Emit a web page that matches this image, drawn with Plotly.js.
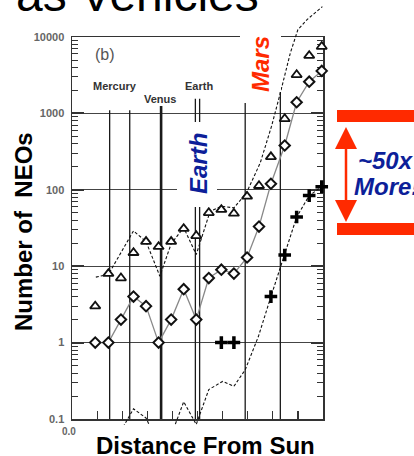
<!DOCTYPE html>
<html><head><meta charset="utf-8">
<script src="https://cdn.plot.ly/plotly-3.0.1.min.js"></script>
<style>html,body{margin:0;padding:0;background:#fff}#chart{width:414px;height:456px}</style>
</head><body><div id="chart"></div>
<script>
// ---------------- data ----------------
const binAU = [0.185,0.29,0.39,0.49,0.59,0.69,0.79,0.89,0.99,1.09,1.19,1.29,1.395,1.49,1.585,1.695,1.79,1.89,1.99];
const triangleCounts = [3,8,7,15,21,18,21,31,25,50,55,49,82,113,270,850,3200,5700,7500];
const diamondCounts = [1,1,2,4,3,1,2,5,2,7,9,8,13,33,120,380,1400,2600,3600];
const crossAU = [1.19,1.29,1.585,1.695,1.79,1.89,1.99];
const crossCounts = [1,1,4,14,44,84,110];
const upperModelAU = [0.19,0.29,0.49,0.59,0.70,0.79,0.89,0.99,1.10,1.19,1.29,1.39,1.50,1.59,1.66,1.74,1.80,1.875,1.995];
const upperModel = [7.2,7.8,29,21,7.4,19.6,32,14.2,52,61,58,91,225,680,1850,6200,12500,17000,25000];
const lowerModelAU = [0.19,0.29,0.39,0.49,0.59,0.69,0.79,0.89,0.99,1.09,1.20,1.29,1.38,1.485,1.585,1.695,1.79,1.89,1.99];
const lowerModel = [0.035,0.04,0.07,0.136,0.103,0.045,0.061,0.168,0.085,0.243,0.31,0.268,0.44,1.2,4,14,44,84,110];
const planetAU = [0.30,0.46,0.71,0.983,1.017,1.38,1.66];
const planetLineTop = [1100,1100,1250,1550,1550,1370,2000];
const yTickVals = [0.1,1,10,100,1000,10000];
const yTickText = ['0.1','1','10','100','1000','10000'];
const xTickVals = [0.2,0.4,0.6,0.8,1.0,1.2,1.4,1.6,1.8];

// ---------------- layout helpers ----------------
const W = 414, H = 456;
const fx = px => px / W, fy = py => 1 - py / H;
const P = (px, py) => fx(px).toFixed(5) + ',' + fy(py).toFixed(5);
const frame = {l:72, r:323, t:37, b:419};
const logPerPx = 5 / (frame.b - frame.t);
const clipBottom = 425;
const FONT = 'Liberation Sans, Arial, sans-serif';
const RED = '#ff2a00', BLUE = '#0d1f99';

const minorVals = [];
for (let d = -1; d < 4; d++) for (let k = 2; k <= 9; k++) minorVals.push(k * Math.pow(10, d));

const traces = [];
planetAU.forEach((a, i) => {
  traces.push({x:[a, a], y:[planetLineTop[i], 0.1], xaxis:'x', yaxis:'y', mode:'lines',
    line:{color:'#1a1a1a', width: i === 2 ? 2.6 : 1.3}, hoverinfo:'skip'});
});
traces.push({x:upperModelAU, y:upperModel, xaxis:'x2', yaxis:'y2', mode:'lines',
  line:{color:'#111', width:1.1, dash:'3px,2px'}, hoverinfo:'skip'});
traces.push({x:lowerModelAU, y:lowerModel, xaxis:'x2', yaxis:'y2', mode:'lines',
  line:{color:'#111', width:1.1, dash:'3px,2px'}, hoverinfo:'skip'});
traces.push({x:binAU, y:diamondCounts, xaxis:'x2', yaxis:'y2', mode:'lines+markers', cliponaxis:false,
  line:{color:'#888', width:1.3},
  marker:{symbol:'diamond', size:8, color:'#fff', line:{color:'#111', width:2}}});
traces.push({x:binAU, y:triangleCounts, xaxis:'x2', yaxis:'y2', mode:'markers', cliponaxis:false,
  marker:{symbol:'triangle-up', size:9, color:'#fff', line:{color:'#111', width:1.8}}});
traces.push({x:crossAU, y:crossCounts, xaxis:'x2', yaxis:'y2', mode:'markers', cliponaxis:false,
  marker:{symbol:'cross-thin-open', size:9, color:'#000', line:{color:'#000', width:3.5}}});

const ann = (text, px, py, o) => Object.assign({text:text, x:fx(px), y:fy(py), xref:'paper', yref:'paper',
  showarrow:false, xanchor:'center', yanchor:'middle'}, o || {});

const annotations = [
  ann('as Vehicles', 261, -5, {xanchor:'right', font:{family:FONT, size:48, color:'#000'}}),
  ann('(b)', 104.5, 55, {font:{family:FONT, size:16, color:'#555'}}),
  ann('Mercury', 114.5, 86, {font:{family:FONT, size:11, color:'#333', weight:'bold'}}),
  ann('Venus', 159.5, 99, {font:{family:FONT, size:11, color:'#333', weight:'bold'}}),
  ann('Earth', 198.5, 86, {font:{family:FONT, size:11, color:'#333', weight:'bold'}}),
  ann('Mars', 260, 64, {textangle:-90, font:{family:FONT, size:24, color:RED, weight:'bold', style:'italic'}}),
  ann('Earth', 198, 164, {textangle:-90, font:{family:FONT, size:24, color:BLUE, weight:'bold', style:'italic'}}),
  ann('~50x', 386, 160, {font:{family:FONT, size:24, color:BLUE, weight:'bold', style:'italic'}}),
  ann('More!', 386, 186, {font:{family:FONT, size:24, color:BLUE, weight:'bold', style:'italic'}}),
  ann('Number of  NEOs', 23, 232, {textangle:-90, font:{family:FONT, size:24, color:'#000', weight:'bold'}}),
  ann('Distance From Sun', 205.5, 445, {font:{family:FONT, size:24, color:'#000', weight:'bold'}}),
  ann('0.0', 68.5, 431, {font:{family:FONT, size:10, color:'#666', weight:'bold'}})
];

const rect = (x0, y0, x1, y1, color) => ({type:'rect', xref:'paper', yref:'paper', layer:'above',
  x0:fx(x0), x1:fx(x1), y0:fy(y1), y1:fy(y0), fillcolor:color, line:{width:0}});
const shapes = [
  rect(240, 18, 281, 92, '#fff'),
  rect(177, 122, 217, 207, '#fff'),
  rect(337, 110, 420, 122, RED),
  rect(337, 223, 420, 235, RED),
  {type:'line', xref:'paper', yref:'paper', layer:'above', x0:fx(346), x1:fx(346), y0:fy(145), y1:fy(205),
   line:{color:RED, width:2.5}},
  {type:'path', xref:'paper', yref:'paper', layer:'above', fillcolor:RED, line:{width:0},
   path:'M' + P(335,149) + 'L' + P(357,149) + 'L' + P(346,127) + 'Z'},
  {type:'path', xref:'paper', yref:'paper', layer:'above', fillcolor:RED, line:{width:0},
   path:'M' + P(335,200) + 'L' + P(357,200) + 'L' + P(346,222) + 'Z'}
];

const layout = {
  width:W, height:H, margin:{l:0, r:0, t:0, b:0}, paper_bgcolor:'#fff', plot_bgcolor:'rgba(0,0,0,0)',
  showlegend:false,
  xaxis:{domain:[fx(frame.l), fx(frame.r)], range:[0, 2], anchor:'y', showline:true, mirror:true,
    linecolor:'#333', linewidth:1.5, ticks:'inside', tickvals:xTickVals, ticklen:8, tickwidth:1.2,
    tickcolor:'#333', showticklabels:false, showgrid:false, zeroline:false, fixedrange:true},
  yaxis:{domain:[fy(frame.b), fy(frame.t)], type:'log', range:[-1, 4], anchor:'x', showline:true,
    mirror:'ticks', linecolor:'#333', linewidth:1.5, ticks:'inside', tickvals:yTickVals, ticktext:yTickText,
    ticklen:12, tickwidth:2, tickcolor:'#333', showgrid:true, gridcolor:'#444', gridwidth:1.3,
    zeroline:false, fixedrange:true, ticklabelstandoff:4,
    tickfont:{family:FONT, size:11, color:'#666', weight:'bold'},
    minor:{tickvals:minorVals, ticks:'inside', ticklen:6, tickwidth:1, tickcolor:'#333', showgrid:false}},
  xaxis2:{domain:[fx(frame.l), fx(frame.r)], range:[0, 2], anchor:'y2', visible:false, fixedrange:true},
  yaxis2:{domain:[fy(clipBottom), 1], type:'log',
    range:[-1 - (clipBottom - frame.b) * logPerPx, 4 + frame.t * logPerPx],
    anchor:'x2', visible:false, fixedrange:true},
  annotations:annotations,
  shapes:shapes
};

Plotly.newPlot('chart', traces, layout, {displayModeBar:false, staticPlot:true});
</script>
</body></html>
